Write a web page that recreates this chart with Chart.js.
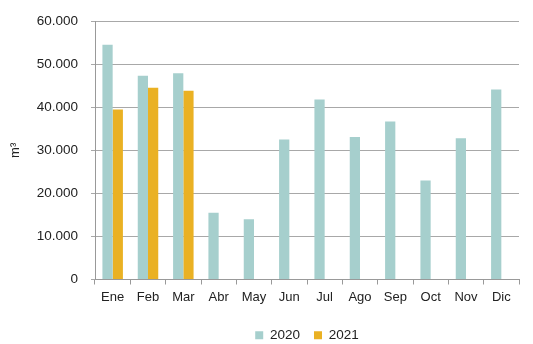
<!DOCTYPE html>
<html>
<head>
<meta charset="utf-8">
<script src="https://cdn.jsdelivr.net/npm/chart.js@4"></script>
<style>
  html, body { margin: 0; padding: 0; background: #fff; }
  #wrap { width: 533px; height: 344px; }
</style>
</head>
<body>
<div id="wrap"><canvas id="chart" width="533" height="344"></canvas></div>
<script>
const months = ["Ene", "Feb", "Mar", "Abr", "May", "Jun", "Jul", "Ago", "Sep", "Oct", "Nov", "Dic"];
const values2020 = [54500, 47300, 47900, 15500, 14000, 32500, 41800, 33100, 36700, 23000, 32800, 44100];
const values2021 = [39500, 44500, 43800, null, null, null, null, null, null, null, null, null];
const yTickLabels = ["0", "10.000", "20.000", "30.000", "40.000", "50.000", "60.000"];

const teal = "#a6cfcd";
const gold = "#eab123";
const font = "'Liberation Sans', Arial, sans-serif";

new Chart(document.getElementById("chart").getContext("2d"), {
  type: "bar",
  data: {
    labels: months,
    datasets: [
      { label: "2020", data: values2020, backgroundColor: teal, categoryPercentage: 0.58, barPercentage: 1 },
      { label: "2021", data: values2021, backgroundColor: gold, categoryPercentage: 0.58, barPercentage: 1 }
    ]
  },
  options: {
    responsive: false,
    animation: false,
    layout: { padding: { top: 16, right: 14, bottom: -8, left: 0 } },
    plugins: {
      tooltip: { enabled: false },
      legend: {
        position: "bottom",
        fullSize: false,
        labels: {
          boxWidth: 8,
          boxHeight: 8,
          padding: 14,
          color: "#222",
          font: { family: font, size: 13.5 }
        }
      }
    },
    scales: {
      x: {
        grid: { drawOnChartArea: false, drawTicks: true, tickLength: 5, color: "#999" },
        border: { color: "#999" },
        ticks: { color: "#222", padding: 5, font: { family: font, size: 13 }, maxRotation: 0 },
        afterFit: (s) => { s.height = 35; }
      },
      y: {
        min: 0,
        max: 60000,
        ticks: {
          stepSize: 10000,
          padding: 13,
          color: "#222",
          font: { family: font, size: 13.5 },
          callback: (v) => yTickLabels[Math.round(v / 10000)]
        },
        grid: { color: "#a8a8a8", tickLength: 4 },
        border: { color: "#999" },
        title: {
          display: true,
          text: "m³",
          color: "#222",
          padding: { top: 8, bottom: 0 },
          font: { family: font, size: 13 }
        },
        afterFit: (s) => { s.width = 95; }
      }
    }
  }
});
</script>
</body>
</html>
